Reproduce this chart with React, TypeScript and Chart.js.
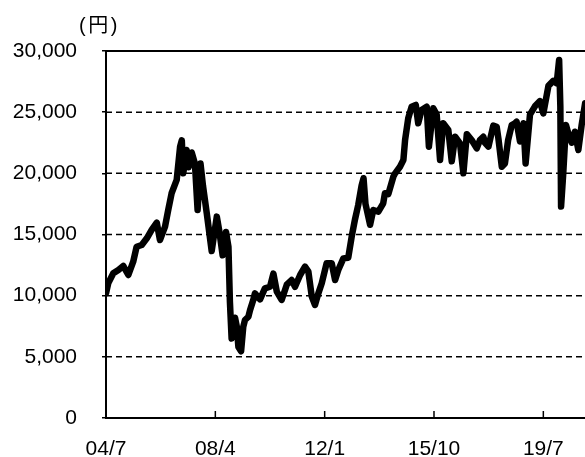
import React, { useEffect, useRef } from 'react';
import { Chart, registerables } from 'chart.js';

Chart.register(...registerables);

// months elapsed since 2004/7
const months = [
  0, 0.95, 3.0, 5.1, 7.1, 9.2, 11.2, 12.6, 14.7, 16.8, 18.8, 20.9, 22.2, 24.3, 25.6, 27.0,
  29.1, 30.5, 31.2, 31.8, 33.2, 34.0, 35.3, 36.6, 37.7, 38.9, 39.9, 41.5, 43.5, 45.6, 46.7,
  48.0, 49.4, 50.4, 51.0, 51.7, 53.1, 53.8, 54.5, 55.6, 56.5, 57.2, 58.6, 59.3, 60.6, 61.3,
  63.4, 65.4, 67.5, 68.9, 70.3, 72.3, 74.4, 76.4, 77.8, 79.9, 81.9, 83.3, 84.7, 86.0, 87.4,
  88.8, 90.8, 92.9, 94.3, 95.6, 97.7, 99.7, 101.1, 102.5, 103.8, 105.2, 106.0, 106.8, 108.7,
  110.0, 112.1, 114.1, 114.8, 116.2, 118.3, 119.0, 121.0, 122.4, 123.1, 124.4, 125.8, 127.5,
  128.5, 129.9, 132.0, 132.9, 134.7, 136.1, 137.5, 138.8, 140.9, 142.3, 143.7, 145.7, 147.1,
  148.5, 150.5, 152.6, 153.9, 155.3, 156.0, 157.4, 159.4, 160.8, 161.5, 162.9, 164.2, 165.5,
  167.0, 168.3, 169.0, 170.4, 171.8, 172.7, 174.5, 176.6, 178.6, 180.0, 182.1, 184.1, 185.5,
  186.5, 187.0, 187.3, 188.2, 189.3, 190.3, 191.7, 193.0, 194.4, 195.8, 197.2,
];

const prices = [
  10200, 11030, 11830, 12100, 12430, 11690, 12780, 14000, 14140, 14690, 15370, 15970, 14550, 15640, 17000, 18370,
  19460, 22180, 22700, 20000, 21900, 20500, 21700, 20800, 17000, 20800, 19000, 16700, 13650, 16460, 15200,
  13300, 15200, 14000, 9500, 6500, 8200, 7500, 5800, 5450, 7460, 8010, 8280, 8830, 9650, 10190,
  9700, 10600, 10730, 11800, 10330, 9650, 10900, 11280, 10730, 11690, 12370, 11960, 9920, 9240, 10190,
  11010, 12650, 12650, 11280, 12100, 13050, 13100, 14800, 16250, 17400, 19000, 19600, 17500, 15800,
  17000, 16870, 17550, 18370, 18300, 19740, 20000, 20540, 21090, 22720, 24500, 25450, 25590,
  24090, 25180, 25450, 22180, 25320, 24800, 21090, 24090, 23540, 20980, 22990, 22450, 20000,
  23200, 22720, 22040, 22720, 22990, 22500, 22180, 23900, 23810, 22860, 20540, 20810, 22700,
  23950, 24090, 24220, 22600, 24090, 20810, 24800, 25500, 25900, 24900, 27150, 27560, 27360,
  29270, 25500, 17280, 20000, 23950, 23270, 22500, 23400, 21910, 24000, 25720,
];

const tickMonths = [0, 45, 90, 135, 180];
const tickLabels = ['04/7', '08/4', '12/1', '15/10', '19/7'];
const yTicks = [0, 5000, 10000, 15000, 20000, 25000, 30000];
const unitLabel = '(円)';

const FONT_FAMILY = "'Liberation Sans', Arial, 'Noto Sans CJK JP', sans-serif";

export default function App() {
  const ref = useRef<HTMLCanvasElement>(null);

  useEffect(() => {
    document.body.style.margin = '0';
    const canvas = ref.current;
    if (!canvas) return;

    const refGrid = {
      id: 'refGrid',
      beforeDatasetsDraw(chart: any) {
        const { ctx, chartArea, scales } = chart;
        const ys = scales.y;
        const xs = scales.x;
        ctx.save();
        ctx.strokeStyle = '#000';
        for (const v of yTicks) {
          if (v === 0) continue;
          const py = ys.getPixelForValue(v);
          ctx.beginPath();
          if (v === yTicks[yTicks.length - 1]) {
            ctx.setLineDash([]);
            ctx.lineWidth = 2;
          } else {
            ctx.setLineDash([6, 4]);
            ctx.lineWidth = 1.5;
          }
          ctx.moveTo(chartArea.left, py);
          ctx.lineTo(chartArea.right, py);
          ctx.stroke();
        }
        ctx.setLineDash([]);
        ctx.lineWidth = 1.5;
        for (const m of tickMonths.slice(1)) {
          const px = xs.getPixelForValue(m);
          ctx.beginPath();
          ctx.moveTo(px, chartArea.bottom);
          ctx.lineTo(px, chartArea.bottom - 7);
          ctx.stroke();
        }
        ctx.fillStyle = '#000';
        ctx.font = `20px ${FONT_FAMILY}`;
        ctx.textBaseline = 'middle';
        ctx.textAlign = 'left';
        try { (ctx as any).letterSpacing = '2.5px'; } catch (e) {}
        ctx.fillText(unitLabel, chartArea.left - 27, chartArea.top - 25);
        ctx.restore();
      },
    };

    const chart = new Chart(canvas, {
      type: 'line',
      data: {
        datasets: [
          {
            data: months.map((m, i) => ({ x: m, y: prices[i] })),
            borderColor: '#000',
            borderWidth: 6.5,
            pointRadius: 0,
            tension: 0,
            borderJoinStyle: 'round',
            borderCapStyle: 'round',
            fill: false,
          },
        ],
      },
      options: {
        animation: false,
        responsive: false,
        devicePixelRatio: 1,
        layout: { padding: { top: 51, left: 0, right: 0, bottom: 0 } },
        plugins: { legend: { display: false }, tooltip: { enabled: false } },
        scales: {
          x: {
            type: 'linear',
            min: 0,
            max: 197.15,
            afterBuildTicks: (axis: any) => {
              axis.ticks = tickMonths.map((v) => ({ value: v }));
            },
            afterFit: (s: any) => {
              s.height = 39;
            },
            ticks: {
              color: '#000',
              font: { family: FONT_FAMILY, size: 21 },
              padding: 19,
              autoSkip: false,
              maxRotation: 0,
              callback: (v: any) => {
                const i = tickMonths.indexOf(Number(v));
                return i >= 0 ? tickLabels[i] : '';
              },
            },
            grid: { display: false, drawTicks: false },
            border: { display: true, color: '#000', width: 2 },
          },
          y: {
            min: 0,
            max: 30000,
            afterFit: (s: any) => {
              s.width = 106;
            },
            ticks: {
              stepSize: 5000,
              color: '#000',
              font: { family: FONT_FAMILY, size: 21 },
              padding: 25,
              callback: (v: any) => Number(v).toLocaleString('en-US'),
            },
            grid: { drawOnChartArea: false, color: '#000', tickLength: 4, lineWidth: 1.5 },
            border: { display: true, color: '#000', width: 2 },
          },
        },
      },
      plugins: [refGrid],
    });

    return () => chart.destroy();
  }, []);

  return (
    <div style={{ position: 'fixed', left: 0, top: 0, width: 585, height: 457 }}>
      <canvas ref={ref} width={585} height={457} />
    </div>
  );
}
